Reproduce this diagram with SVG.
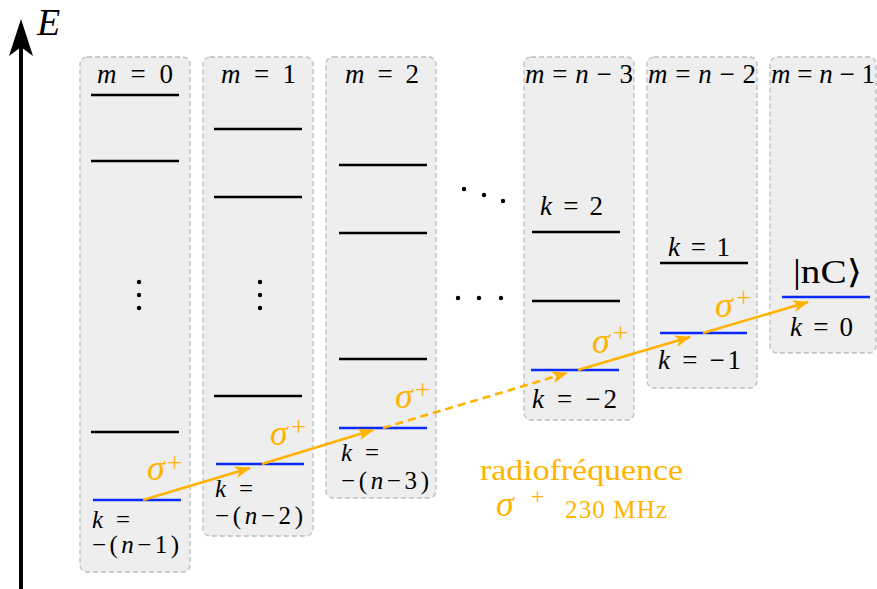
<svg xmlns="http://www.w3.org/2000/svg" width="877" height="589" viewBox="0 0 877 589">
<style>
.box{fill:#EEEEEE;stroke:#BDBDBD;stroke-width:1.3;stroke-dasharray:5,3}
.lvl{stroke:#000;stroke-width:2.6}
.gs{stroke:#0A2AF8;stroke-width:2.6}
.t{font-family:"Liberation Serif","DejaVu Serif",serif;font-size:27px;fill:#000}
.s{font-size:25px}
.i{font-style:italic}
.or{fill:#FFB300}
.sig{font-family:"Liberation Serif","DejaVu Serif",serif;font-size:36px;font-style:italic;fill:#FFB300}
.sup{font-size:27px;font-style:normal}
.arr{stroke:#FFB300;stroke-width:2.6;fill:none}
.dot{fill:#000}
</style>
<defs>
<marker id="ah" markerUnits="userSpaceOnUse" viewBox="0 0 16 12" markerWidth="16" markerHeight="12" refX="15" refY="6" orient="auto">
<path d="M0,0 L16,6 L0,12 L4,6 Z" fill="#FFB300"/>
</marker>
</defs>
<rect width="877" height="589" fill="#FFFFFF"/>

<g id="axis">
<line x1="21" y1="589" x2="21" y2="45" stroke="#000" stroke-width="4"/>
<path d="M21,19 L33,56 L21,47 L9,56 Z" fill="#000"/>
<text x="37" y="35" class="t i" style="font-size:38px">E</text>
</g>

<g id="m0">
<rect class="box" x="80" y="57" width="110" height="515" rx="7"/>
<text class="t" x="97" y="83" textLength="76" lengthAdjust="spacing"><tspan class="i">m</tspan> = 0</text>
<line class="lvl" x1="91" y1="95" x2="179" y2="95"/>
<line class="lvl" x1="91" y1="161" x2="179" y2="161"/>
<circle class="dot" cx="139" cy="282" r="2.2"/>
<circle class="dot" cx="139" cy="295" r="2.2"/>
<circle class="dot" cx="139" cy="308" r="2.2"/>
<line class="lvl" x1="91" y1="432" x2="179" y2="432"/>
<line class="gs" x1="93" y1="500" x2="181" y2="500"/>
<text class="t s" x="92" y="528" textLength="38" lengthAdjust="spacing"><tspan class="i">k</tspan>=</text>
<text class="t s" x="92" y="553" textLength="87" lengthAdjust="spacing">−(<tspan class="i">n</tspan>−1)</text>
</g>

<g id="m1">
<rect class="box" x="203" y="57" width="110" height="479" rx="7"/>
<text class="t" x="221" y="83" textLength="75" lengthAdjust="spacing"><tspan class="i">m</tspan> = 1</text>
<line class="lvl" x1="214" y1="129" x2="302" y2="129"/>
<line class="lvl" x1="214" y1="197" x2="302" y2="197"/>
<circle class="dot" cx="260" cy="282" r="2.2"/>
<circle class="dot" cx="260" cy="295" r="2.2"/>
<circle class="dot" cx="260" cy="308" r="2.2"/>
<line class="lvl" x1="214" y1="396" x2="302" y2="396"/>
<line class="gs" x1="216" y1="464" x2="304" y2="464"/>
<text class="t s" x="215" y="497" textLength="38" lengthAdjust="spacing"><tspan class="i">k</tspan>=</text>
<text class="t s" x="215" y="524" textLength="88" lengthAdjust="spacing">−(<tspan class="i">n</tspan>−2)</text>
</g>

<g id="m2">
<rect class="box" x="326" y="57" width="110" height="441" rx="7"/>
<text class="t" x="345" y="83" textLength="74" lengthAdjust="spacing"><tspan class="i">m</tspan> = 2</text>
<line class="lvl" x1="339" y1="165" x2="427" y2="165"/>
<line class="lvl" x1="339" y1="233" x2="427" y2="233"/>
<line class="lvl" x1="339" y1="359" x2="427" y2="359"/>
<line class="gs" x1="339" y1="428" x2="427" y2="428"/>
<text class="t s" x="341" y="461" textLength="38" lengthAdjust="spacing"><tspan class="i">k</tspan>=</text>
<text class="t s" x="341" y="489" textLength="88" lengthAdjust="spacing">−(<tspan class="i">n</tspan>−3)</text>
</g>

<g id="ellipsis">
<circle class="dot" cx="464" cy="189" r="2.2"/>
<circle class="dot" cx="484" cy="195" r="2.2"/>
<circle class="dot" cx="503" cy="201" r="2.2"/>
<circle class="dot" cx="458" cy="298" r="2.2"/>
<circle class="dot" cx="479" cy="298" r="2.2"/>
<circle class="dot" cx="501" cy="298" r="2.2"/>
</g>

<g id="mn3">
<rect class="box" x="524" y="57" width="110" height="363" rx="7"/>
<text class="t" x="525" y="83" textLength="108" lengthAdjust="spacing"><tspan class="i">m</tspan>=<tspan class="i">n</tspan>−3</text>
<text class="t" x="540" y="215" textLength="63" lengthAdjust="spacing"><tspan class="i">k</tspan> = 2</text>
<line class="lvl" x1="532" y1="232" x2="620" y2="232"/>
<line class="lvl" x1="532" y1="301" x2="620" y2="301"/>
<line class="gs" x1="531" y1="370" x2="619" y2="370"/>
<text class="t" x="532" y="408" textLength="85" lengthAdjust="spacing"><tspan class="i">k</tspan> = −2</text>
</g>

<g id="mn2">
<rect class="box" x="647" y="57" width="110" height="331" rx="7"/>
<text class="t" x="648" y="83" textLength="108" lengthAdjust="spacing"><tspan class="i">m</tspan>=<tspan class="i">n</tspan>−2</text>
<text class="t" x="668" y="256" textLength="62" lengthAdjust="spacing"><tspan class="i">k</tspan> = 1</text>
<line class="lvl" x1="660" y1="263" x2="748" y2="263"/>
<line class="gs" x1="660" y1="333" x2="747" y2="333"/>
<text class="t" x="658" y="369" textLength="83" lengthAdjust="spacing"><tspan class="i">k</tspan> = −1</text>
</g>

<g id="mn1">
<rect class="box" x="770" y="57" width="106" height="296" rx="7"/>
<text class="t" x="771" y="83" textLength="104" lengthAdjust="spacing"><tspan class="i">m</tspan>=<tspan class="i">n</tspan>−1</text>
<text class="t" x="793" y="283" style="font-size:33px" textLength="69" lengthAdjust="spacingAndGlyphs">|nC⟩</text>
<line class="gs" x1="782" y1="297" x2="870" y2="297"/>
<text class="t" x="790" y="336" textLength="63" lengthAdjust="spacing"><tspan class="i">k</tspan> = 0</text>
</g>

<g id="connectors">
<line class="arr" x1="143" y1="500" x2="250" y2="468" marker-end="url(#ah)"/>
<line class="arr" x1="262" y1="464" x2="373" y2="430" marker-end="url(#ah)"/>
<line class="arr" x1="383" y1="428" x2="567" y2="373" stroke-dasharray="8,5" marker-end="url(#ah)"/>
<line class="arr" x1="578" y1="370" x2="690" y2="337" marker-end="url(#ah)"/>
<line class="arr" x1="703" y1="333" x2="808" y2="302" marker-end="url(#ah)"/>
<text class="sig" x="147" y="480">σ<tspan class="sup" x="167" y="472">+</tspan></text>
<text class="sig" x="270" y="445">σ<tspan class="sup" x="291" y="436">+</tspan></text>
<text class="sig" x="395" y="408">σ<tspan class="sup" x="415" y="399">+</tspan></text>
<text class="sig" x="592" y="353">σ<tspan class="sup" x="613" y="342">+</tspan></text>
<text class="sig" x="715" y="317">σ<tspan class="sup" x="736" y="307">+</tspan></text>
</g>

<g id="legend">
<text class="t or" x="480" y="480" style="font-size:30px" textLength="203" lengthAdjust="spacingAndGlyphs">radiofréquence</text>
<text class="sig" x="496" y="516">σ<tspan class="sup" x="531" y="504" style="font-size:23px">+</tspan></text>
<text class="t or" x="565" y="518" style="font-size:25px" textLength="102" lengthAdjust="spacing">230 MHz</text>
</g>
</svg>
